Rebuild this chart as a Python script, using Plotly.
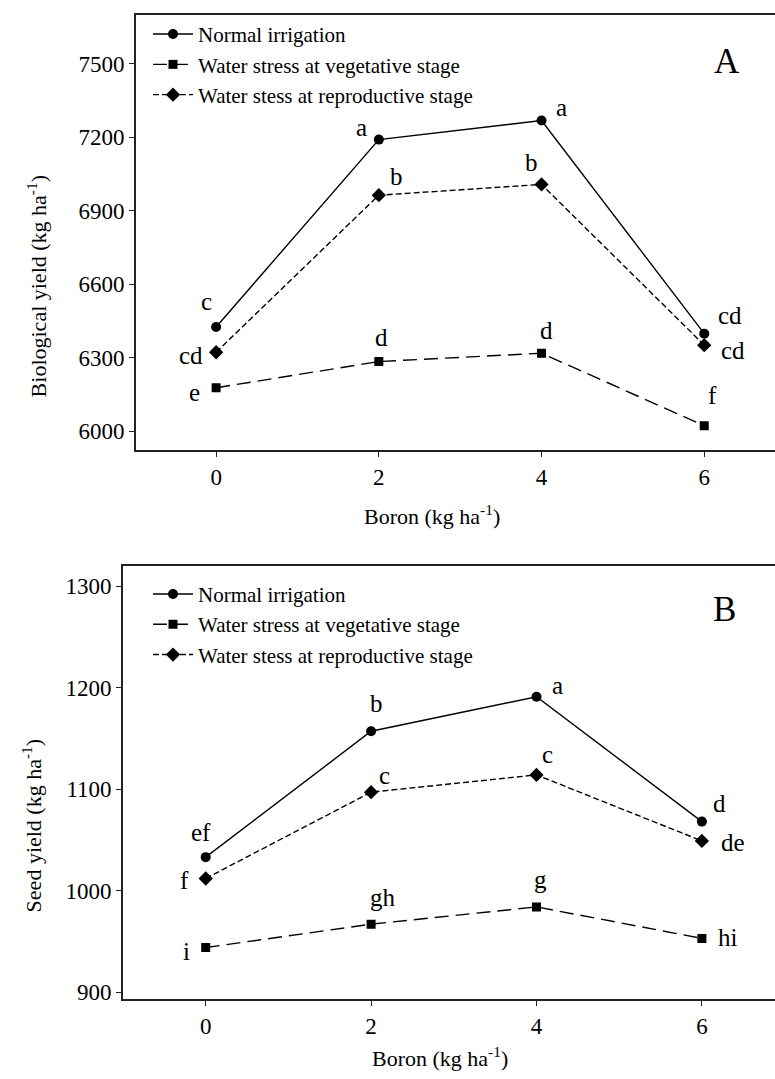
import plotly.graph_objects as go

# ---------------- data ----------------
boron = [0, 2, 4, 6]
series_names = ["Normal irrigation",
                "Water stress at vegetative stage",
                "Water stess at reproductive stage"]

# Panel A: Biological yield (kg ha-1)
bio_normal = [6425, 7190, 7268, 6398]
bio_veg = [6177, 6284, 6318, 6022]
bio_repro = [6322, 6963, 7007, 6351]
bio_letters_normal = ["c", "a", "a", "cd"]
bio_letters_veg = ["e", "d", "d", "f"]
bio_letters_repro = ["cd", "b", "b", "cd"]

# Panel B: Seed yield (kg ha-1)
seed_normal = [1033, 1157, 1191, 1068]
seed_veg = [944, 967, 984, 953]
seed_repro = [1012, 1097, 1114, 1049]
seed_letters_normal = ["ef", "b", "a", "d"]
seed_letters_veg = ["i", "gh", "g", "hi"]
seed_letters_repro = ["f", "c", "c", "de"]

bio_yticks = [6000, 6300, 6600, 6900, 7200, 7500]
seed_yticks = [900, 1000, 1100, 1200, 1300]
xticks = [0, 2, 4, 6]

# ---------------- styles ----------------
W, H = 775, 1079
FONT = "Liberation Serif, Times New Roman, DejaVu Serif, serif"
styles = [
    dict(dash="solid", symbol="circle", size=10),
    dict(dash="14px,7px", symbol="square", size=9),
    dict(dash="6px,3px", symbol="diamond", size=11),
]
# label offsets (px) for significance letters: (dx, dy up)
off_bio = [
    [(-10, 26), (-17, 12), (20, 13), (26, 18)],
    [(-22, -5), (3, 24), (5, 23), (8, 30)],
    [(-25, -3), (18, 19), (-10, 22), (29, -5)],
]
off_seed = [
    [(-5, 25), (5, 28), (21, 11), (18, 18)],
    [(-19, -4), (12, 27), (4, 27), (26, 1)],
    [(-21, -2), (13, 17), (11, 20), (31, -2)],
]

fig = go.Figure()
annotations = []

panels = [
    dict(xa="x", ya="y", legend="legend",
         ys=[bio_normal, bio_veg, bio_repro],
         letters=[bio_letters_normal, bio_letters_veg, bio_letters_repro],
         offs=off_bio),
    dict(xa="x2", ya="y2", legend="legend2",
         ys=[seed_normal, seed_veg, seed_repro],
         letters=[seed_letters_normal, seed_letters_veg, seed_letters_repro],
         offs=off_seed),
]

for p in panels:
    for i, (name, yv) in enumerate(zip(series_names, p["ys"])):
        st = styles[i]
        fig.add_trace(go.Scatter(
            x=boron, y=yv, name=name, mode="lines+markers",
            xaxis=p["xa"], yaxis=p["ya"], legend=p["legend"],
            line=dict(color="black", width=1.4, dash=st["dash"]),
            marker=dict(color="black", symbol=st["symbol"], size=st["size"]),
            showlegend=True,
        ))
        for xv, yy, lt, (dx, dy) in zip(boron, yv, p["letters"][i], p["offs"][i]):
            annotations.append(dict(
                x=xv, y=yy, xref=p["xa"], yref=p["ya"], text=lt,
                showarrow=False, xshift=dx, yshift=dy,
                xanchor="center", yanchor="middle",
                font=dict(family=FONT, size=25, color="black"),
            ))

axis_common = dict(showline=True, linecolor="#222", linewidth=1.6,
                   ticks="outside", ticklen=5, tickwidth=1.2, tickcolor="#222",
                   showgrid=False, zeroline=False,
                   tickfont=dict(family=FONT, size=23, color="black"))

def px_x(px):
    return px / W

def px_y(py):
    return 1 - py / H

legend_common = dict(xanchor="left", yanchor="top", bgcolor="rgba(0,0,0,0)",
                     tracegroupgap=0, itemwidth=40,
                     font=dict(family=FONT, size=21, color="black"))

fig.update_layout(
    width=W, height=H, autosize=False,
    margin=dict(l=0, r=0, t=0, b=0),
    paper_bgcolor="white", plot_bgcolor="white",
    xaxis=dict(domain=[px_x(136), 1.0], range=[-0.985, 6.87], anchor="y",
               tickvals=xticks, mirror=True, **axis_common),
    yaxis=dict(domain=[px_y(453), px_y(15)], range=[5921, 7699], anchor="x",
               tickvals=bio_yticks, **axis_common),
    xaxis2=dict(domain=[px_x(123), 1.0], range=[-1.0, 6.884], anchor="y2",
                tickvals=xticks, mirror=True, **axis_common),
    yaxis2=dict(domain=[px_y(1005), px_y(569)], range=[892.9, 1319.9], anchor="x2",
                tickvals=seed_yticks, **axis_common),
    legend=dict(x=px_x(148), y=px_y(14), **legend_common),
    legend2=dict(x=px_x(148), y=px_y(577), **legend_common),
)

# panel labels and axis titles
title_font = dict(family=FONT, size=22, color="black")
annotations += [
    dict(text="A", x=px_x(727), y=px_y(62), xref="paper", yref="paper",
         xanchor="center", yanchor="middle", showarrow=False,
         font=dict(family=FONT, size=35, color="black")),
    dict(text="B", x=px_x(724), y=px_y(613), xref="paper", yref="paper",
         xanchor="center", yanchor="middle", showarrow=False,
         font=dict(family=FONT, size=35, color="black")),
    dict(text="Biological yield (kg ha<sup>-1</sup>)", x=px_x(37), y=px_y(288),
         xref="paper", yref="paper", textangle=-90, showarrow=False,
         xanchor="center", yanchor="middle", font=title_font),
    dict(text="Seed yield (kg ha<sup>-1</sup>)", x=px_x(32), y=px_y(830),
         xref="paper", yref="paper", textangle=-90, showarrow=False,
         xanchor="center", yanchor="middle", font=title_font),
    dict(text="Boron (kg ha<sup>-1</sup>)", x=px_x(432), y=px_y(518),
         xref="paper", yref="paper", showarrow=False,
         xanchor="center", yanchor="middle", font=title_font),
    dict(text="Boron (kg ha<sup>-1</sup>)", x=px_x(440), y=px_y(1063),
         xref="paper", yref="paper", showarrow=False,
         xanchor="center", yanchor="middle", font=title_font),
]
fig.update_layout(annotations=annotations)

fig.write_html("out.html", config={"displayModeBar": False},
               post_script="document.body.style.margin='0';")
